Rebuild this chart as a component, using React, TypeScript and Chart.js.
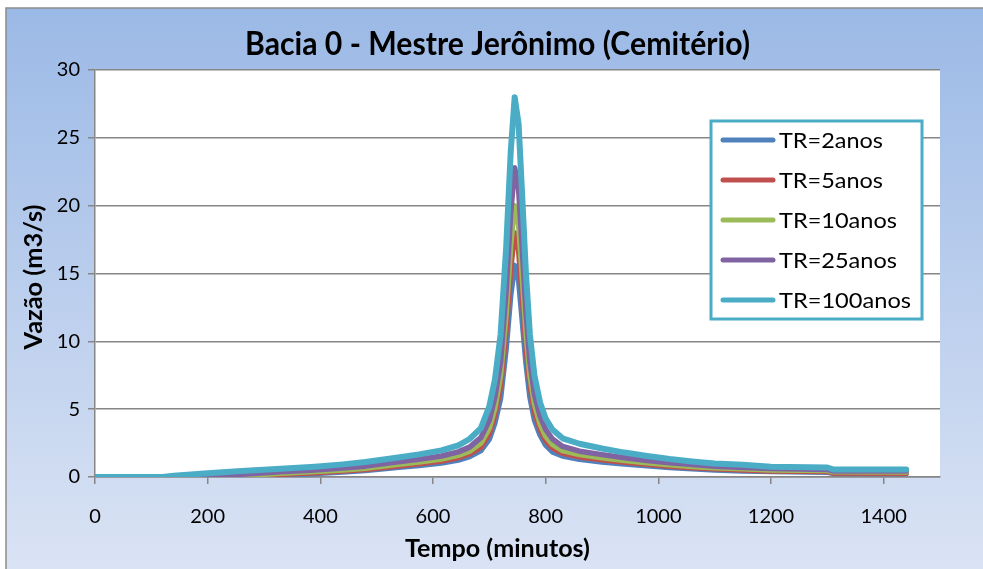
import React, { useEffect, useRef } from 'react';
import { Chart, registerables } from 'chart.js';

Chart.register(...registerables);

const TITLE = 'Bacia 0 - Mestre Jerônimo (Cemitério)';
const X_TITLE = 'Tempo (minutos)';
const Y_TITLE = 'Vazão (m3/s)';
const X_TICKS = [0, 200, 400, 600, 800, 1000, 1200, 1400];
const Y_TICKS = [0, 5, 10, 15, 20, 25, 30];
const SERIES_NAMES = ['TR=2anos', 'TR=5anos', 'TR=10anos', 'TR=25anos', 'TR=100anos'];
const COLORS = ['#4F81BD', '#C0504D', '#9BBB59', '#8064A2', '#4BACC6'];

const TIME = [0, 120, 140, 200, 260, 330, 390, 440, 480, 535, 575, 615, 645, 665, 685, 700, 710, 720, 730, 738, 745, 752, 758, 765, 772, 780, 790, 800, 812, 830, 860, 900, 940, 980, 1020, 1060, 1100, 1150, 1200, 1300, 1310, 1440];

const Q_TR2 = [0, 0, 0, 0, 0, 0.12, 0.25, 0.36, 0.47, 0.7, 0.85, 1.03, 1.25, 1.5, 1.95, 2.8, 4.0, 5.8, 9.5, 13.4, 15.6, 14.5, 11.7, 8.4, 5.9, 4.2, 3.1, 2.35, 1.85, 1.55, 1.3, 1.1, 0.95, 0.82, 0.7, 0.6, 0.52, 0.45, 0.4, 0.35, 0.27, 0.25];
const Q_TR5 = [0, 0, 0, 0, 0.05, 0.2, 0.32, 0.44, 0.56, 0.8, 0.97, 1.17, 1.42, 1.7, 2.2, 3.2, 4.6, 6.7, 10.9, 15.4, 18, 16.7, 13.5, 9.6, 6.8, 4.8, 3.5, 2.7, 2.15, 1.75, 1.48, 1.27, 1.08, 0.93, 0.8, 0.69, 0.6, 0.52, 0.45, 0.4, 0.3, 0.28];
const Q_TR10 = [0, 0, 0, 0, 0.1, 0.27, 0.4, 0.52, 0.65, 0.92, 1.1, 1.33, 1.6, 1.9, 2.5, 3.6, 5.1, 7.5, 12.1, 17.1, 20, 18.6, 15, 10.7, 7.5, 5.4, 3.9, 3.0, 2.4, 1.95, 1.65, 1.42, 1.22, 1.05, 0.9, 0.78, 0.68, 0.6, 0.52, 0.47, 0.38, 0.36];
const Q_TR25 = [0, 0, 0, 0.05, 0.2, 0.38, 0.52, 0.66, 0.8, 1.1, 1.3, 1.55, 1.85, 2.2, 2.9, 4.2, 5.9, 8.5, 13.8, 19.5, 22.8, 21.2, 17.1, 12.2, 8.5, 6.1, 4.5, 3.5, 2.8, 2.25, 1.9, 1.65, 1.42, 1.22, 1.05, 0.92, 0.8, 0.7, 0.62, 0.55, 0.45, 0.44];
const Q_TR100 = [0, 0, 0.1, 0.27, 0.44, 0.6, 0.76, 0.93, 1.1, 1.42, 1.67, 1.96, 2.33, 2.8, 3.6, 5.2, 7.2, 10.5, 17, 24, 28, 26, 21, 15, 10.5, 7.5, 5.5, 4.3, 3.5, 2.85, 2.45, 2.1, 1.8, 1.55, 1.33, 1.15, 1.0, 0.9, 0.76, 0.7, 0.56, 0.55];

const SERIES = [Q_TR2, Q_TR5, Q_TR10, Q_TR25, Q_TR100];

const FONT = 'Lato, "Open Sans", sans-serif';
const GRID = '#868686';

function drawFitted(
  ctx: CanvasRenderingContext2D,
  text: string,
  weight: string,
  size: number,
  targetW: number,
  x: number,
  y: number,
  rotate = 0,
  align: CanvasTextAlign = 'center'
) {
  ctx.font = `${weight} ${size}px ${FONT}`;
  const w = ctx.measureText(text).width;
  const sx = targetW / w;
  ctx.save();
  ctx.translate(x, y);
  if (rotate) ctx.rotate(rotate);
  ctx.scale(sx, 1);
  ctx.textAlign = align;
  ctx.textBaseline = 'alphabetic';
  ctx.fillText(text, 0, 0);
  ctx.restore();
}

const decorPlugin = {
  id: 'decor',
  beforeDraw(chart: any) {
    const { ctx, width, height, chartArea: a } = chart;
    ctx.save();
    ctx.fillStyle = '#ffffff';
    ctx.fillRect(0, 0, width, height);
    const g = ctx.createLinearGradient(0, 8, 0, height);
    g.addColorStop(0, '#9BB9E6');
    g.addColorStop(1, '#DAE3F4');
    ctx.fillStyle = g;
    ctx.fillRect(6, 8, width - 6, height - 8);
    ctx.strokeStyle = '#8C8C8C';
    ctx.lineWidth = 1.5;
    ctx.beginPath();
    ctx.moveTo(6, height);
    ctx.lineTo(6, 8);
    ctx.lineTo(width, 8);
    ctx.stroke();
    ctx.fillStyle = '#ffffff';
    ctx.fillRect(a.left, a.top, a.right - a.left, a.bottom - a.top);
    ctx.restore();
  },
  afterDraw(chart: any) {
    const { ctx } = chart;
    ctx.save();
    ctx.fillStyle = '#000000';

    drawFitted(ctx, TITLE, 'bold', 33, 505, 497.5, 55);
    drawFitted(ctx, X_TITLE, 'bold', 25, 185, 497.5, 557);
    drawFitted(ctx, Y_TITLE, 'bold', 25, 145, 42, 277, -Math.PI / 2);

    // legend
    const lx = 711, ly = 121, lw = 211, lh = 198;
    ctx.fillStyle = '#ffffff';
    ctx.fillRect(lx, ly, lw, lh);
    ctx.strokeStyle = '#4BACC6';
    ctx.lineWidth = 3;
    ctx.strokeRect(lx, ly, lw, lh);
    const legendW = [104, 104, 118, 118, 132];
    SERIES_NAMES.forEach((name, i) => {
      const cy = 140 + i * 40;
      ctx.strokeStyle = COLORS[i];
      ctx.lineWidth = 5;
      ctx.lineCap = 'round';
      ctx.beginPath();
      ctx.moveTo(723, cy);
      ctx.lineTo(773, cy);
      ctx.stroke();
      ctx.fillStyle = '#000000';
      drawFitted(ctx, name, 'normal', 22, legendW[i], 779, cy + 8, 0, 'left');
    });
    ctx.restore();
  },
};

export default function App() {
  const ref = useRef<HTMLCanvasElement | null>(null);

  useEffect(() => {
    if (!ref.current) return;
    const datasets = SERIES.map((arr, i) => ({
      label: SERIES_NAMES[i],
      data: TIME.map((t, j) => ({ x: t, y: arr[j] })),
      borderColor: COLORS[i],
      backgroundColor: COLORS[i],
      borderWidth: i === 4 ? 6 : 5.5,
      pointRadius: 0,
      tension: 0,
      borderJoinStyle: 'round' as const,
      borderCapStyle: 'round' as const,
      order: 5 - i,
    }));
    const chart = new Chart(ref.current, {
      type: 'line',
      data: { datasets },
      options: {
        responsive: false,
        animation: false,
        devicePixelRatio: 1,
        layout: { padding: { top: 70, right: 43, left: 0, bottom: 0 } },
        plugins: { legend: { display: false }, tooltip: { enabled: false }, title: { display: false } },
        scales: {
          x: {
            type: 'linear',
            min: 0,
            max: 1500,
            afterBuildTicks: (sc: any) => {
              sc.ticks = X_TICKS.map((v) => ({ value: v }));
            },
            afterFit: (sc: any) => {
              sc.height = 92;
            },
            ticks: {
              color: '#000',
              font: { family: FONT, size: 20 },
              padding: 21,
              maxRotation: 0,
              autoSkip: false,
              callback: (v: any) => String(v),
            },
            grid: { drawOnChartArea: false, drawTicks: true, tickLength: 7, color: GRID, lineWidth: 1.5 },
            border: { display: true, color: GRID, width: 1.5 },
          },
          y: {
            type: 'linear',
            min: 0,
            max: 30,
            afterBuildTicks: (sc: any) => {
              sc.ticks = Y_TICKS.map((v) => ({ value: v }));
            },
            afterFit: (sc: any) => {
              sc.width = 95;
            },
            ticks: { color: '#000', font: { family: FONT, size: 20 }, padding: 8, callback: (v: any) => String(v) },
            grid: { drawTicks: true, tickLength: 7, color: GRID, lineWidth: 1.5 },
            border: { display: true, color: GRID, width: 1.5 },
          },
        },
      },
      plugins: [decorPlugin],
    });
    return () => chart.destroy();
  }, []);

  return (
    <div style={{ position: 'fixed', left: 0, top: 0, width: 983, height: 569 }}>
      <canvas ref={ref} width={983} height={569} style={{ width: 983, height: 569, display: 'block' }} />
    </div>
  );
}
